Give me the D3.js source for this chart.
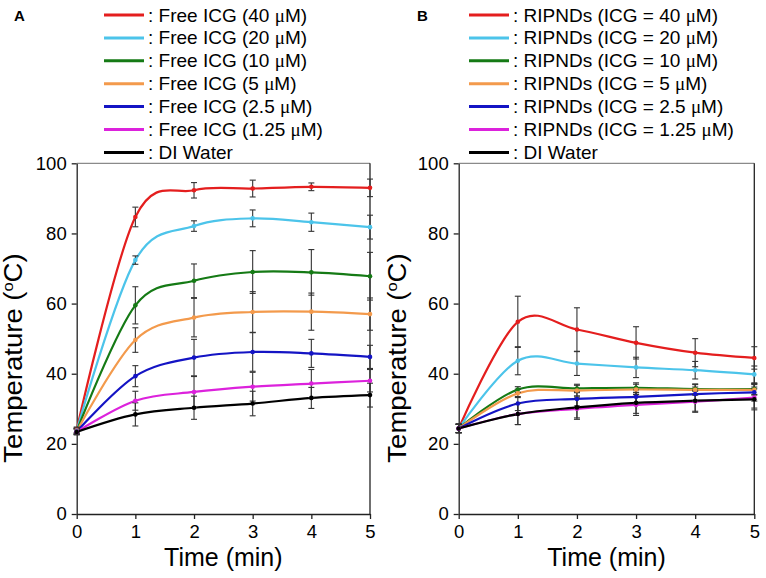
<!DOCTYPE html>
<html><head><meta charset="utf-8">
<script src="https://cdn.jsdelivr.net/npm/d3@7"></script>
<style>body{margin:0;background:#fff}svg{display:block}text{font-family:"Liberation Sans",Arial,sans-serif;fill:#000}</style>
</head><body><svg id="c" width="766" height="578"></svg>
<script>
const times = [0, 1, 2, 3, 4, 5];
const xTicks = [0, 1, 2, 3, 4, 5];
const yTicks = [0, 20, 40, 60, 80, 100];
const colors = ["#e41e1e", "#4cc4ea", "#157a15", "#f39a4c", "#1414c4", "#dc22dc", "#000000"];
const labelsA = [": Free ICG (40 ", ": Free ICG (20 ", ": Free ICG (10 ", ": Free ICG (5 ", ": Free ICG (2.5 ", ": Free ICG (1.25 ", ": DI Water"];
const labelsB = [": RIPNDs (ICG = 40 ", ": RIPNDs (ICG = 20 ", ": RIPNDs (ICG = 10 ", ": RIPNDs (ICG = 5 ", ": RIPNDs (ICG = 2.5 ", ": RIPNDs (ICG = 1.25 ", ": DI Water"];
const unitSuffix = [true, true, true, true, true, true, false];

// Panel A: Free ICG
const a40   = [24.0, 84.7, 92.3, 92.8, 93.3, 93.0];
const a20   = [23.8, 72.4, 82.1, 84.3, 83.2, 81.8];
const a10   = [23.6, 59.5, 66.5, 69.0, 68.9, 67.8];
const a5    = [23.6, 49.6, 56.0, 57.6, 57.7, 57.0];
const a2_5  = [23.5, 39.3, 44.6, 46.2, 45.8, 44.8];
const a1_25 = [23.4, 32.3, 34.8, 36.3, 37.2, 38.0];
const aW    = [23.4, 28.4, 30.3, 31.5, 33.1, 33.9];
const eA40   = [0.8, 2.8, 2.2, 2.4, 1.1, 2.5];
const eA20   = [0.8, 1.2, 1.5, 2.4, 2.6, 3.4];
const eA10   = [0.8, 5.3, 4.8, 6.1, 6.5, 6.8];
const eA5    = [0.8, 3.5, 5.5, 5.8, 5.3, 4.6];
const eA2_5  = [0.8, 3.0, 5.2, 5.5, 4.0, 3.3];
const eA1_25 = [0.8, 2.7, 4.4, 4.1, 4.0, 3.2];
const eAW    = [0.8, 3.3, 3.3, 3.5, 3.0, 3.4];

// Panel B: RIPNDs
const b40   = [24.4, 54.8, 52.6, 48.8, 46.0, 44.5];
const b20   = [24.4, 43.7, 42.9, 41.8, 41.0, 39.8];
const b10   = [24.4, 35.5, 35.8, 36.0, 35.6, 35.6];
const b5    = [24.4, 34.4, 35.2, 35.5, 35.4, 35.4];
const b2_5  = [24.4, 31.5, 32.8, 33.4, 34.2, 34.7];
const b1_25 = [24.4, 28.5, 30.0, 31.1, 32.0, 33.2];
const bW    = [24.4, 28.5, 30.4, 31.7, 32.3, 32.7];
const eB40   = [1.2, 7.3, 6.2, 4.6, 4.0, 3.2];
const eB20   = [1.2, 4.0, 3.4, 2.9, 2.5, 2.4];
const eB10   = [1.2, 0.8, 1.2, 1.4, 1.5, 1.5];
const eB5    = [1.2, 1.2, 1.5, 1.5, 1.5, 1.5];
const eB2_5  = [1.2, 2.0, 2.0, 2.0, 2.0, 2.5];
const eB1_25 = [1.2, 3.0, 3.0, 3.0, 3.0, 3.0];
const eBW    = [1.2, 3.0, 3.0, 3.0, 3.0, 3.0];

const seriesA = [a40, a20, a10, a5, a2_5, a1_25, aW];
const errA = [eA40, eA20, eA10, eA5, eA2_5, eA1_25, eAW];
const seriesB = [b40, b20, b10, b5, b2_5, b1_25, bW];
const errB = [eB40, eB20, eB10, eB5, eB2_5, eB1_25, eBW];

const svg = d3.select("#c");

function panel(opt) {
  const x = d3.scaleLinear().domain([0, 5]).range([opt.x0, opt.x1]);
  const y = d3.scaleLinear().domain([0, 100]).range([514, 163.3]);
  const g = svg.append("g");

  // frame top & right
  g.append("line").attr("x1", opt.x0).attr("x2", opt.x1).attr("y1", y(100)).attr("y2", y(100))
    .attr("stroke", "#8a8a8a").attr("stroke-width", 1.3);
  g.append("line").attr("x1", opt.x1).attr("x2", opt.x1).attr("y1", y(100)).attr("y2", y(0))
    .attr("stroke", "#222").attr("stroke-width", 1.3);

  const ax = g.append("g").attr("transform", `translate(0,${y(0)})`)
    .call(d3.axisBottom(x).tickValues(xTicks).tickFormat(d3.format("d")).tickSize(5).tickSizeOuter(0));
  const ay = g.append("g").attr("transform", `translate(${opt.x0},0)`)
    .call(d3.axisLeft(y).tickValues(yTicks).tickFormat(d3.format("d")).tickSize(5).tickSizeOuter(0));
  [ax, ay].forEach(a => {
    a.select(".domain").attr("stroke", "#222").attr("stroke-width", 1.3);
    a.selectAll(".tick line").attr("stroke", "#222").attr("stroke-width", 1.3);
    a.selectAll("text").attr("font-size", 18.5).attr("font-family", '"Liberation Sans",Arial,sans-serif').attr("fill", "#000");
  });
  ax.selectAll("text").attr("dy", "0.71em").attr("y", 11);
  ay.selectAll("text").attr("x", -10);

  const line = d3.line().x((d, i) => x(times[i])).y(d => y(d)).curve(d3.curveCardinal.tension(0));

  opt.series.forEach((s, k) => {
    g.append("path").attr("d", line(s)).attr("fill", "none").attr("stroke", colors[k]).attr("stroke-width", 2.2);
  });
  opt.series.forEach((s, k) => {
    s.forEach((v, i) => {
      const e = opt.err[k][i];
      const cx = x(times[i]);
      g.append("line").attr("x1", cx).attr("x2", cx).attr("y1", y(v - e)).attr("y2", y(v + e))
        .attr("stroke", "#333").attr("stroke-width", 1.1);
      [v - e, v + e].forEach(t => {
        g.append("line").attr("x1", cx - 3).attr("x2", cx + 3).attr("y1", y(t)).attr("y2", y(t))
          .attr("stroke", "#333").attr("stroke-width", 1.1);
      });
    });
  });
  opt.series.forEach((s, k) => {
    g.selectAll(null).data(s).enter().append("circle")
      .attr("cx", (d, i) => x(times[i])).attr("cy", d => y(d)).attr("r", 2.3).attr("fill", colors[k]);
  });

  // axis titles
  g.append("text").attr("x", (opt.x0 + opt.x1) / 2).attr("y", 566).attr("text-anchor", "middle")
    .attr("font-size", 25).text("Time (min)");
  const yt = g.append("text").attr("transform", `translate(${opt.yTitleX},358) rotate(-90) scale(1.1,1)`)
    .attr("text-anchor", "middle").attr("font-size", 25);
  yt.append("tspan").text("Temperature (");
  yt.append("tspan").text("o").attr("font-size", 15).attr("dy", -9);
  yt.append("tspan").text("C)").attr("dy", 9);

  // panel letter
  g.append("text").attr("x", opt.letterX).attr("y", 21).attr("font-size", 15).attr("font-weight", "bold").text(opt.letter);

  // legend
  opt.labels.forEach((lab, k) => {
    const ly = 15 + k * 22.9;
    g.append("line").attr("x1", opt.legX).attr("x2", opt.legX + 40).attr("y1", ly).attr("y2", ly)
      .attr("stroke", colors[k]).attr("stroke-width", 3);
    const t = g.append("text").attr("x", opt.legX + 44).attr("y", ly + 6.5).attr("font-size", 19);
    t.append("tspan").text(lab);
    if (unitSuffix[k]) {
      t.append("tspan").text("\u03bc").attr("font-family", '"Liberation Serif","Times New Roman",serif');
      t.append("tspan").text("M)");
    }
  });
}

panel({x0: 76.7, x1: 370, series: seriesA, err: errA, labels: labelsA, yTitleX: 22, letter: "A", letterX: 14, legX: 104});
panel({x0: 458.7, x1: 754.3, series: seriesB, err: errB, labels: labelsB, yTitleX: 406, letter: "B", letterX: 417, legX: 469});
</script></body></html>
